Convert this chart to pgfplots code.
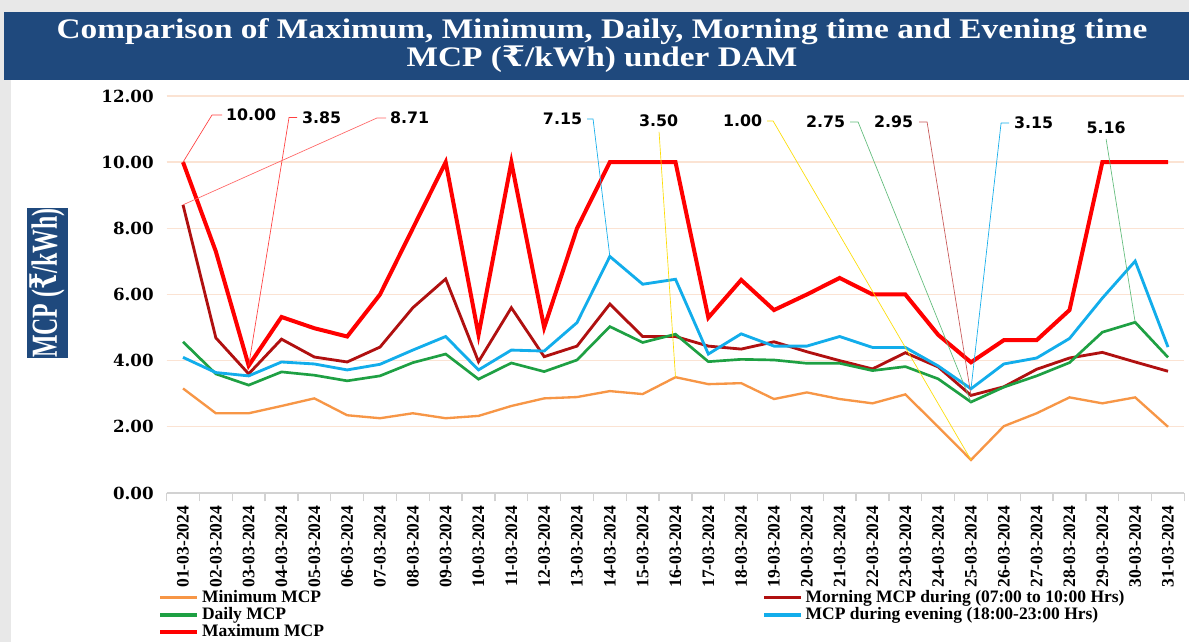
\documentclass[border=0pt]{standalone}
\usepackage{fontspec}
\setmainfont{Liberation Serif}
\newfontfamily\tickfont{DejaVu Serif}
\newfontfamily\callfont{DejaVu Sans}
\usepackage{pgfplots}
\usepackage{pgfplotstable}
\pgfplotsset{compat=1.18}

\definecolor{titleblue}{HTML}{1F497D}
\definecolor{cmin}{HTML}{F79646}
\definecolor{cmorn}{HTML}{B01010}
\definecolor{cday}{HTML}{1EA043}
\definecolor{ceve}{HTML}{12ADEB}
\definecolor{cmax}{HTML}{FF0000}
\definecolor{gridc}{HTML}{FBE3D3}

\newcommand\rupee{{\tickfont ₹}}
% picture pixels -> pt, origin at the axis' south west corner
\newcommand\px[2]{({((#1)-166.6)*0.6pt},{(493-(#2))*0.6pt})}
% picture pixels -> axis cs
\newcommand\ax[2]{(axis cs:{((#1)-183)/32.83},{(493-(#2))/33.08})}

\pgfplotstableread{
idx date       min  morn daily eve  max
0  01-03-2024  3.16 8.71 4.57 4.10 10.00
1  02-03-2024  2.41 4.69 3.60 3.64 7.30
2  03-03-2024  2.41 3.60 3.26 3.54 3.85
3  04-03-2024  2.63 4.65 3.66 3.96 5.32
4  05-03-2024  2.86 4.11 3.56 3.90 4.98
5  06-03-2024  2.35 3.96 3.39 3.72 4.73
6  07-03-2024  2.26 4.41 3.54 3.89 6.00
7  08-03-2024  2.41 5.60 3.94 4.32 8.00
8  09-03-2024  2.26 6.47 4.20 4.73 10.00
9  10-03-2024  2.33 3.97 3.44 3.72 4.78
10 11-03-2024  2.63 5.60 3.93 4.32 10.00
11 12-03-2024  2.86 4.12 3.67 4.29 5.00
12 13-03-2024  2.90 4.44 4.02 5.15 8.00
13 14-03-2024  3.08 5.71 5.03 7.15 10.00
14 15-03-2024  2.99 4.73 4.55 6.31 10.00
15 16-03-2024  3.50 4.73 4.80 6.46 10.00
16 17-03-2024  3.29 4.44 3.97 4.20 5.30
17 18-03-2024  3.32 4.35 4.04 4.81 6.44
18 19-03-2024  2.84 4.57 4.02 4.44 5.53
19 20-03-2024  3.04 4.27 3.92 4.44 6.00
20 21-03-2024  2.84 4.00 3.92 4.73 6.50
21 22-03-2024  2.71 3.75 3.70 4.40 6.00
22 23-03-2024  2.98 4.24 3.82 4.40 6.00
23 24-03-2024  2.00 3.81 3.45 3.84 4.78
24 25-03-2024  1.00 2.95 2.75 3.15 3.95
25 26-03-2024  2.02 3.21 3.20 3.90 4.62
26 27-03-2024  2.41 3.74 3.54 4.08 4.62
27 28-03-2024  2.89 4.08 3.94 4.67 5.53
28 29-03-2024  2.71 4.25 4.86 5.89 10.00
29 30-03-2024  2.89 3.96 5.16 7.01 10.00
30 31-03-2024  2.00 3.68 4.10 4.41 10.00
}\data

\begin{document}
\begin{tikzpicture}
% frame and title bar
\fill[gray!18] \px{0}{0} rectangle \px{1189}{642};
\fill[white] \px{11}{80} rectangle \px{1189}{642};
\fill[titleblue] \px{4}{12} rectangle \px{1189}{80};
\node[text=white, inner sep=0pt] at \px{602}{32}
  {\scalebox{1}[0.85]{\bfseries\fontsize{20}{16}\selectfont Comparison of Maximum, Minimum, Daily, Morning time and  Evening time}};
\node[text=white, inner sep=0pt] at \px{602}{59}
  {\scalebox{1}[0.85]{\bfseries\fontsize{20}{16}\selectfont MCP (\rupee/kWh) under DAM}};
% y label box
\node[fill=titleblue, text=white, rotate=90, inner sep=0pt, minimum width=90pt, minimum height=24.6pt]
  at \px{47.5}{283} {\scalebox{0.65}[1]{\bfseries\fontsize{22}{22}\selectfont MCP (\rupee/kWh)}};

\begin{axis}[
  scale only axis, width=610.7pt, height=238.2pt,
  xmin=-0.5, xmax=30.5, ymin=0, ymax=12,
  clip=false,
  axis x line*=bottom, axis y line*=left,
  x axis line style={draw=gray!35, line width=0.8pt},
  y axis line style={draw=none},
  xtick={0,...,30},
  xticklabels from table={\data}{date},
  minor xtick={-0.5,0.5,...,30.5},
  major x tick style={draw=none},
  minor x tick style={draw=gray!35, line width=0.8pt},
  minor tick length=5pt,
  tick align=outside,
  xticklabel style={rotate=90, anchor=east, font=\bfseries\fontsize{10.5}{11}\selectfont},
  ytick={0,2,...,12},
  ytick style={draw=none},
  yticklabel style={font=\tickfont\bfseries\fontsize{10}{11}\selectfont,
    /pgf/number format/fixed, /pgf/number format/fixed zerofill,
    /pgf/number format/precision=2, /pgf/number format/assume math mode=true},
  ymajorgrids, grid style={draw=gridc, line width=0.8pt},
  legend columns=2,
  legend cell align=left,
  legend style={at={(-0.013,-0.228)}, anchor=north west, draw=none, fill=none,
    font=\bfseries\fontsize{10.5}{11}\selectfont, row sep=-2.5pt,
    /tikz/column 2/.style={column sep=261pt}},
  legend image code/.code={\draw[#1, line width=2pt] (0pt,0pt) -- (22pt,0pt);},
]
\addplot[cmin, line width=1.4pt] table[x=idx, y=min] {\data};
\addlegendentry{Minimum MCP}
\addplot[cmorn, line width=1.7pt] table[x=idx, y=morn] {\data};
\addlegendentry{Morning MCP  during (07:00 to 10:00 Hrs)}
\addplot[cday, line width=1.6pt] table[x=idx, y=daily] {\data};
\addlegendentry{Daily MCP}
\addplot[ceve, line width=1.7pt] table[x=idx, y=eve] {\data};
\addlegendentry{MCP  during evening (18:00-23:00 Hrs)}
\addplot[cmax, line width=2.4pt] table[x=idx, y=max] {\data};
\addlegendentry{Maximum MCP}

% callouts
\tikzset{call/.style={font=\callfont\bfseries\fontsize{9.5}{10}\selectfont, inner sep=1pt}}
\draw[cmax!75, line width=0.4pt] (axis cs:0,10) -- \ax{212}{115} -- \ax{222}{115};
\node[call, anchor=west] at \ax{224}{115} {10.00};
\draw[cmax!75, line width=0.4pt] (axis cs:2,3.85) -- \ax{289}{117.5} -- \ax{297}{117.5};
\node[call, anchor=west] at \ax{300}{117.5} {3.85};
\draw[cmax!60, line width=0.4pt] (axis cs:0,8.71) -- \ax{377}{118} -- \ax{386}{118};
\node[call, anchor=west] at \ax{388}{118} {8.71};
\draw[ceve, line width=0.4pt] (axis cs:13,7.15) -- \ax{593}{119} -- \ax{587}{119};
\node[call, anchor=east] at \ax{584}{119} {7.15};
\draw[yellow!80!orange, line width=0.4pt] (axis cs:15,3.50) -- \ax{659}{132};
\node[call] at \ax{658.5}{121} {3.50};
\draw[yellow!80!orange, line width=0.4pt] (axis cs:24,1.00) -- \ax{773}{121} -- \ax{767}{121};
\node[call, anchor=east] at \ax{764}{121} {1.00};
\draw[cday!70, line width=0.4pt] (axis cs:24,2.75) -- \ax{858}{122} -- \ax{850}{122};
\node[call, anchor=east] at \ax{847}{122} {2.75};
\draw[cmorn!70, line width=0.4pt] (axis cs:24,2.95) -- \ax{927}{122} -- \ax{919}{122};
\node[call, anchor=east] at \ax{915}{122} {2.95};
\draw[ceve, line width=0.4pt] (axis cs:24,3.15) -- \ax{1001}{123} -- \ax{1009}{123};
\node[call, anchor=west] at \ax{1012}{123} {3.15};
\draw[cday!70, line width=0.4pt] (axis cs:29,5.16) -- \ax{1106}{139};
\node[call] at \ax{1106}{128} {5.16};
\end{axis}

\pgfresetboundingbox
\useasboundingbox \px{0}{0} rectangle \px{1189}{642};
\end{tikzpicture}
\end{document}
